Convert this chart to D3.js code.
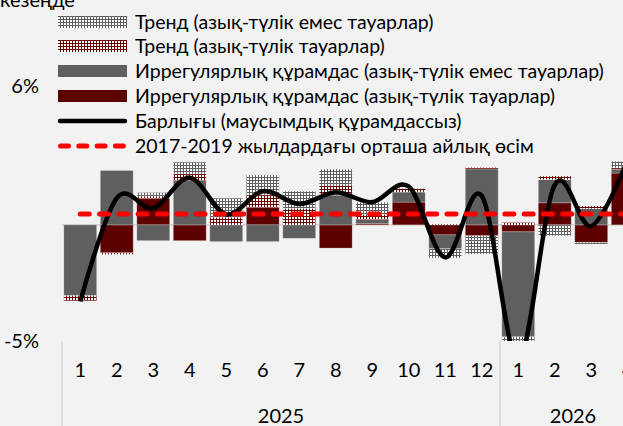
<!DOCTYPE html>
<html>
<head>
<meta charset="utf-8">
<script src="https://cdn.jsdelivr.net/npm/d3@7/dist/d3.min.js"></script>
<style>
    body { margin: 0; background: #f2f2f2; }
    svg { display: block; font-family: Lato, "Open Sans", sans-serif; }
</style>
</head>
<body>
<div id="chart"></div>
<script>

var months = ["1", "2", "3", "4", "5", "6", "7", "8", "9", "10", "11", "12", "1", "2", "3", "4"];
var years = ["2025", "2026"];
var yearMonths = [12, 4];

// components, % m/m
var trendNonFood = [0, 0, 0.15, 0.5, 0.82, 0.86, 0.75, 0.69, 0.52, 0.03, -0.4, -0.79, -0.6, -0.47, -0.07, 0.28];
var trendFood = [-0.22, -0.08, 0.11, 0.29, 0.33, 0.53, 0.7, 0.43, 0.22, 0.15, 0.04, 0.06, 0.1, 0.15, 0.11, 0.06];
var irrNonFood = [-3.05, 2.34, -0.68, 1.91, -0.72, -0.72, -0.58, 1.28, 0.18, 0.43, -0.6, 2.41, -4.5, 1.0, 0.7, 0.17];
var irrFood = [0, -1.2, 1.13, -0.68, 0, 0.76, 0, -1.0, 0.05, 0.98, -0.43, -0.47, -0.3, 0.95, -0.76, 2.23];
var total = [-3.3, 1.15, 0.72, 2.03, 0.45, 1.45, 0.9, 1.4, 0.98, 1.65, -1.4, 1.25, -5.8, 1.72, -0.05, 2.8];
var avg2017_2019 = 0.47;

var yTicks = [-5, 6];

var legendLabels = [
    "Тренд (азық-түлік емес тауарлар)",
    "Тренд (азық-түлік тауарлар)",
    "Иррегулярлық құрамдас (азық-түлік емес тауарлар)",
    "Иррегулярлық құрамдас (азық-түлік тауарлар)",
    "Барлығы (маусымдық құрамдассыз)",
    "2017-2019 жылдардағы орташа айлық өсім"
];

var width = 623,
    height = 426;

var plot = {
    left: 62,
    bottom: 341,
    top: 85.5,
    step: 36.5
};

var GRAY = "#5f5f5f",
    DARKRED = "#5c0000";

var svg = d3.select("#chart").append("svg")
    .attr("width", width)
    .attr("height", height)
    .style("background", "#f2f2f2");

var defs = svg.append("defs");

function dotPattern(id, bg) {
    var p = defs.append("pattern")
        .attr("id", id)
        .attr("patternUnits", "userSpaceOnUse")
        .attr("width", 3)
        .attr("height", 3);
    p.append("rect").attr("width", 3).attr("height", 3).attr("fill", bg);
    p.append("rect").attr("x", 1).attr("y", 1).attr("width", 2).attr("height", 2).attr("fill", "#ffffff");
}
dotPattern("dotsGray", GRAY);
dotPattern("dotsRed", "#6a0000");

defs.append("clipPath").attr("id", "plotClip")
    .append("rect")
    .attr("x", plot.left)
    .attr("y", 0)
    .attr("width", 800)
    .attr("height", plot.bottom);

var idx = d3.range(months.length);

var x = d3.scaleBand()
    .domain(idx)
    .range([plot.left, plot.left + plot.step * months.length])
    .paddingInner(0.1)
    .paddingOuter(0.05);

var y = d3.scaleLinear()
    .domain([-5, 6])
    .range([plot.bottom, plot.top]);

var keys = ["irrFood", "irrNonFood", "trendFood", "trendNonFood"];
var fills = {
    irrFood: DARKRED,
    irrNonFood: GRAY,
    trendFood: "url(#dotsRed)",
    trendNonFood: "url(#dotsGray)"
};

var rows = idx.map(function (i) {
    return {
        i: i,
        irrFood: irrFood[i],
        irrNonFood: irrNonFood[i],
        trendFood: trendFood[i],
        trendNonFood: trendNonFood[i]
    };
});

var series = d3.stack()
    .keys(keys)
    .offset(d3.stackOffsetDiverging)(rows);

// partially visible title at top
svg.append("text")
    .attr("x", 0)
    .attr("y", 7)
    .style("font-size", "20px")
    .attr("fill", "#000")
    .text("кезеңде");

// zero line
svg.append("line")
    .attr("x1", plot.left)
    .attr("x2", width)
    .attr("y1", y(0))
    .attr("y2", y(0))
    .attr("stroke", "#d4d4d4")
    .attr("stroke-width", 1.8);

var g = svg.append("g").attr("clip-path", "url(#plotClip)");

g.selectAll(".layer")
    .data(series)
    .enter().append("g")
    .attr("class", "layer")
    .attr("fill", function (d) { return fills[d.key]; })
    .selectAll("rect")
    .data(function (d) { return d; })
    .enter().append("rect")
    .attr("x", function (d) { return x(d.data.i); })
    .attr("width", x.bandwidth())
    .attr("y", function (d) { return y(Math.max(d[0], d[1])); })
    .attr("height", function (d) { return Math.abs(y(d[0]) - y(d[1])); })
    .attr("stroke", "rgba(255,255,255,0.3)")
    .attr("stroke-width", 0.8);

var line = d3.line()
    .x(function (d, i) { return x(i) + x.bandwidth() / 2; })
    .y(function (d) { return y(d); })
    .curve(d3.curveCardinal.tension(0));

g.append("path")
    .datum(total)
    .attr("d", line)
    .attr("fill", "none")
    .attr("stroke", "#000")
    .attr("stroke-width", 4.5)
    .attr("stroke-linejoin", "round");

g.append("line")
    .attr("x1", x(0) + x.bandwidth() / 2)
    .attr("x2", x(months.length - 1) + x.bandwidth() / 2)
    .attr("y1", y(avg2017_2019))
    .attr("y2", y(avg2017_2019))
    .attr("stroke", "#ff0000")
    .attr("stroke-width", 5)
    .attr("stroke-linecap", "round")
    .attr("stroke-dasharray", "9,10.3");

// y labels
svg.selectAll(".ylab")
    .data(yTicks)
    .enter().append("text")
    .attr("class", "ylab")
    .attr("x", 39)
    .attr("y", function (d) { return y(d); })
    .attr("dy", "0.35em")
    .attr("text-anchor", "end")
    .style("font-size", "20px")
    .text(function (d) { return d + "%"; });

// category axis (two levels)
svg.selectAll(".mlab")
    .data(months)
    .enter().append("text")
    .attr("class", "mlab")
    .attr("x", function (d, i) { return x(i) + x.bandwidth() / 2; })
    .attr("y", 370)
    .attr("dy", "0.35em")
    .attr("text-anchor", "middle")
    .style("font-size", "20px")
    .text(function (d) { return d; });

var edges = [0];
yearMonths.forEach(function (n, k) { edges.push(edges[k] + n); });
var edgeX = edges.map(function (e) { return plot.left + e * x.step(); });

svg.selectAll(".sep")
    .data(edgeX.slice(0, 2))
    .enter().append("line")
    .attr("class", "sep")
    .attr("x1", function (d) { return d; })
    .attr("x2", function (d) { return d; })
    .attr("y1", plot.bottom)
    .attr("y2", height)
    .attr("stroke", "#d4d4d4")
    .attr("stroke-width", 1.5);

svg.selectAll(".ylab2")
    .data(years)
    .enter().append("text")
    .attr("class", "ylab2")
    .attr("x", function (d, k) { return (edgeX[k] + edgeX[k + 1]) / 2; })
    .attr("y", 416)
    .attr("dy", "0.35em")
    .attr("text-anchor", "middle")
    .style("font-size", "20px")
    .text(function (d) { return d; });

// legend (whole-pixel rows so the dot patterns stay crisp)
var legendFills = ["url(#dotsGray)", "url(#dotsRed)", GRAY, DARKRED];

var legend = svg.selectAll(".leg")
    .data(legendLabels)
    .enter().append("g")
    .attr("class", "leg")
    .attr("transform", function (d, i) { return "translate(0," + Math.round(21.5 + i * 24.8) + ")"; });

legend.each(function (d, i) {
    var item = d3.select(this);
    if (i < 4) {
        item.append("rect")
            .attr("x", 58)
            .attr("y", -6)
            .attr("width", 69)
            .attr("height", 12)
            .attr("fill", legendFills[i]);
    } else if (i == 4) {
        item.append("line")
            .attr("x1", 60).attr("x2", 125)
            .attr("stroke", "#000")
            .attr("stroke-width", 4.5)
            .attr("stroke-linecap", "round");
    } else {
        item.append("line")
            .attr("x1", 60.5).attr("x2", 125)
            .attr("stroke", "#ff0000")
            .attr("stroke-width", 5)
            .attr("stroke-linecap", "round")
            .attr("stroke-dasharray", "8,10.3");
    }
    item.append("text")
        .attr("x", 135)
        .attr("dy", "0.35em")
        .style("font-size", "19.5px")
        .text(d);
});

</script>
</body>
</html>
